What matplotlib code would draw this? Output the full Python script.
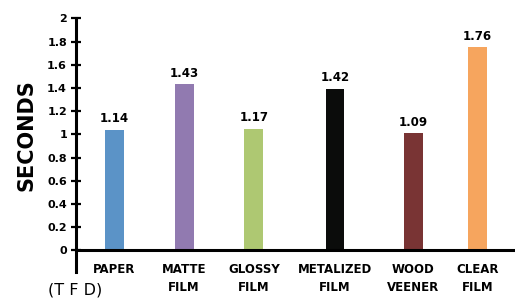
import matplotlib
matplotlib.use("Agg")
import matplotlib.pyplot as plt
from matplotlib.ticker import FuncFormatter

materials = ["PAPER", "MATTE\nFILM", "GLOSSY\nFILM", "METALIZED\nFILM", "WOOD\nVEENER", "CLEAR\nFILM"]
bar_heights = [1.04, 1.43, 1.05, 1.39, 1.01, 1.75]   # as drawn
value_labels = ["1.14", "1.43", "1.17", "1.42", "1.09", "1.76"]
colors = ["#5b93c7", "#917ab0", "#aec872", "#0b0c0b", "#793434", "#f6a55e"]
yticks = [0, 0.2, 0.4, 0.6, 0.8, 1, 1.2, 1.4, 1.6, 1.8, 2]

# slots are not evenly spaced in the original
xpos = [0, 0.96, 1.92, 3.04, 4.12, 5.0]

W, H = 515, 299
fig = plt.figure(figsize=(W / 100, H / 100), dpi=100)
ax = fig.add_axes([76 / W, 1 - 272 / H, 1 - 76 / W, (272 - 18.3) / H])

ax.bar(xpos, bar_heights, width=0.26, color=colors)
for x, h, lab in zip(xpos, bar_heights, value_labels):
    ax.text(x, h + 0.04, lab, ha="center", va="bottom", fontsize=8.5, fontweight="bold")

ax.set_xlim(-0.53, 5.52)
ax.set_ylim(-0.187, 2)
ax.spines["top"].set_visible(False)
ax.spines["right"].set_visible(False)
ax.spines["bottom"].set_position(("data", 0))
ax.spines["left"].set_linewidth(2.2)
ax.spines["bottom"].set_linewidth(2.2)

ax.set_yticks(yticks)
ax.yaxis.set_major_formatter(FuncFormatter(lambda v, p: f"{v:g}"))
ax.tick_params(axis="y", direction="inout", length=7, width=1.6, pad=3, labelsize=8)
for t in ax.get_yticklabels():
    t.set_fontweight("bold")

ax.set_xticks(xpos)
ax.set_xticklabels(materials, fontsize=8.5, fontweight="bold", linespacing=1.55)
ax.tick_params(axis="x", length=0, pad=9)

fig.text(26.7 / W, 1 - 135.5 / H, "SECONDS", rotation=90, ha="center", va="center",
         fontsize=15, fontweight="bold")
fig.text(48 / W, 1 - 290 / H, "(T F D)", ha="left", va="center", fontsize=11.5)

fig.savefig("out.png", dpi=100)
